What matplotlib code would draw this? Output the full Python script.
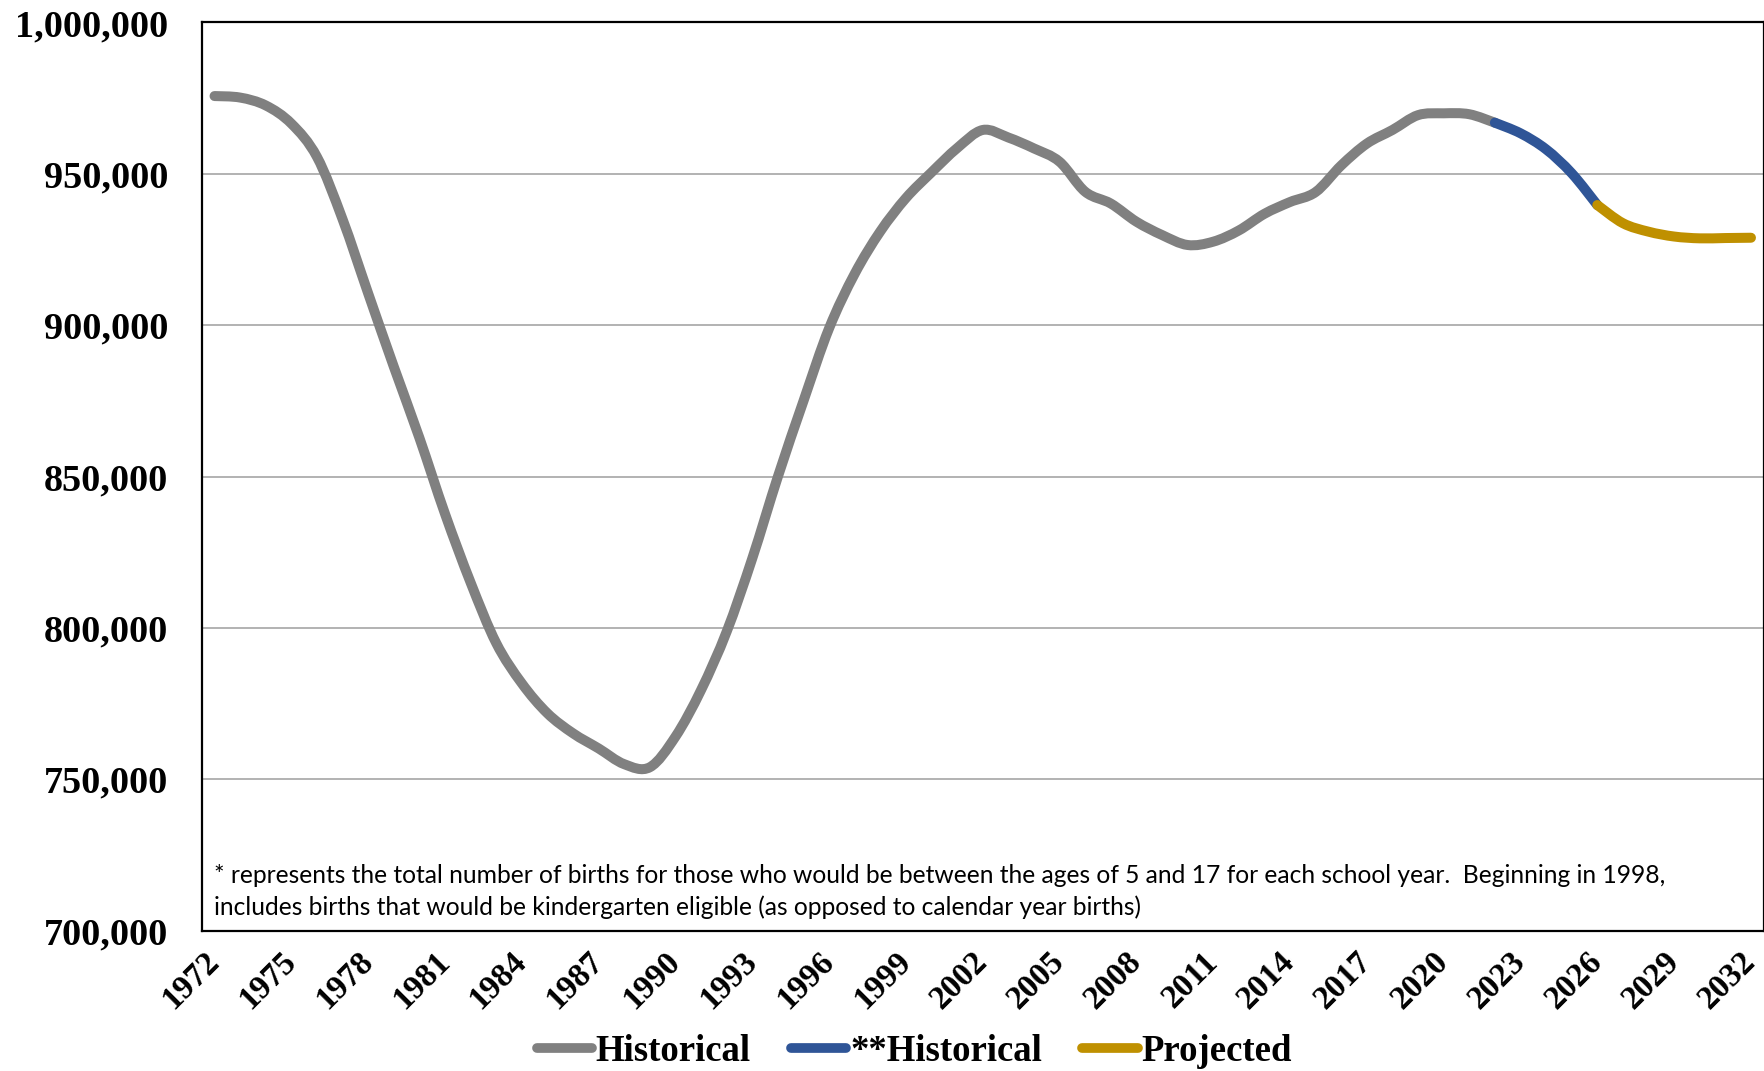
import matplotlib
matplotlib.use("Agg")
import matplotlib.pyplot as plt
import numpy as np
from matplotlib.path import Path
from matplotlib.patches import PathPatch
from matplotlib.lines import Line2D
from matplotlib.ticker import FuncFormatter, MultipleLocator

# births per school year
hist_years = list(range(1972, 2023))
hist_births = [975700, 975200, 972600, 966600, 955600, 935000, 910500, 886300,
               862800, 837700, 815000, 795000, 781700, 771800, 765200, 760200,
               755000, 754000, 764100, 779500, 798800, 823000, 850000, 875000,
               899000, 917000, 931000, 942000, 950500, 958500, 964500, 962000,
               958400, 954000, 944100, 940200, 934200, 929800, 926500, 927600,
               931300, 936800, 940700, 944000, 952800, 960000, 964500, 969400,
               970000, 969700, 966900]
recent_years = [2022, 2023, 2024, 2025, 2026]
recent_births = [966900, 963400, 958100, 950200, 939700]
proj_years = [2026, 2027, 2028, 2029, 2030, 2031, 2032]
proj_births = [939700, 933700, 930900, 929300, 928700, 928800, 928900]

tick_years = list(range(1972, 2033, 3))

GRAY = "#808080"
BLUE = "#2F5597"
GOLD = "#BF9000"
SERIF = "Liberation Serif"

note = ["* represents the total number of births for those who would be between the ages of 5 and 17 "
        "for each school year.  Beginning in 1998,",
        "includes births that would be kindergarten eligible (as opposed to calendar year births)"]


def smooth_path(xs, ys):
    # cubic bezier through the points, like Excel's "smoothed line"
    pts = np.column_stack([xs, ys]).astype(float)
    n = len(pts)
    verts = [pts[0]]
    codes = [Path.MOVETO]
    for i in range(n - 1):
        p0 = pts[i - 1] if i > 0 else pts[i]
        p1 = pts[i]
        p2 = pts[i + 1]
        p3 = pts[i + 2] if i + 2 < n else pts[i + 1]
        verts += [p1 + (p2 - p0) / 6, p2 - (p3 - p1) / 6, p2]
        codes += [Path.CURVE4] * 3
    return Path(verts, codes)


fig = plt.figure(figsize=(17.65, 10.71), dpi=100)
ax = fig.add_axes([0.1143, 0.131, 0.885, 0.848])

for xs, ys, c in [(hist_years, hist_births, GRAY),
                  (recent_years, recent_births, BLUE),
                  (proj_years, proj_births, GOLD)]:
    patch = PathPatch(smooth_path(xs, ys), fill=False, edgecolor=c, lw=7.2,
                      capstyle="round", joinstyle="round", zorder=3)
    ax.add_patch(patch)

ax.set_xlim(1971.5, 2032.5)
ax.set_ylim(700000, 1000000)
ax.yaxis.set_major_locator(MultipleLocator(50000))
ax.yaxis.set_major_formatter(FuncFormatter(lambda v, p: f"{int(v):,}"))
ax.set_xticks(tick_years)
ax.set_xticklabels([str(y) for y in tick_years], rotation=45, ha="right",
                   va="center", rotation_mode="anchor")
ax.tick_params(axis="both", length=0)
ax.tick_params(axis="y", pad=24)
ax.tick_params(axis="x", pad=19)
for lab in ax.get_yticklabels():
    lab.set_fontfamily(SERIF)
    lab.set_fontweight("bold")
    lab.set_fontsize(27.5)
for lab in ax.get_xticklabels():
    lab.set_fontfamily(SERIF)
    lab.set_fontweight("bold")
    lab.set_fontsize(24)

ax.grid(axis="y", color="#A6A6A6", lw=1.2)
ax.set_axisbelow(True)
for s in ax.spines.values():
    s.set_color("black")
    s.set_linewidth(1.6)

ax.text(0.0077, 0.0613, note[0], transform=ax.transAxes, fontsize=17.7,
        family="Lato", va="center", ha="left")
ax.text(0.0077, 0.0264, note[1], transform=ax.transAxes, fontsize=17.7,
        family="Lato", va="center", ha="left")

handles = [Line2D([], [], color=GRAY, lw=7, solid_capstyle="round"),
           Line2D([], [], color=BLUE, lw=7, solid_capstyle="round"),
           Line2D([], [], color=GOLD, lw=7, solid_capstyle="round")]
fig.legend(handles, ["Historical", "**Historical", "Projected"], loc="center",
           bbox_to_anchor=(0.518, 0.018), ncol=3, frameon=False,
           handlelength=1.5, handletextpad=0.1, columnspacing=1.1,
           prop={"family": SERIF, "weight": "bold", "size": 26.5})

fig.savefig("out.png", dpi=100)
